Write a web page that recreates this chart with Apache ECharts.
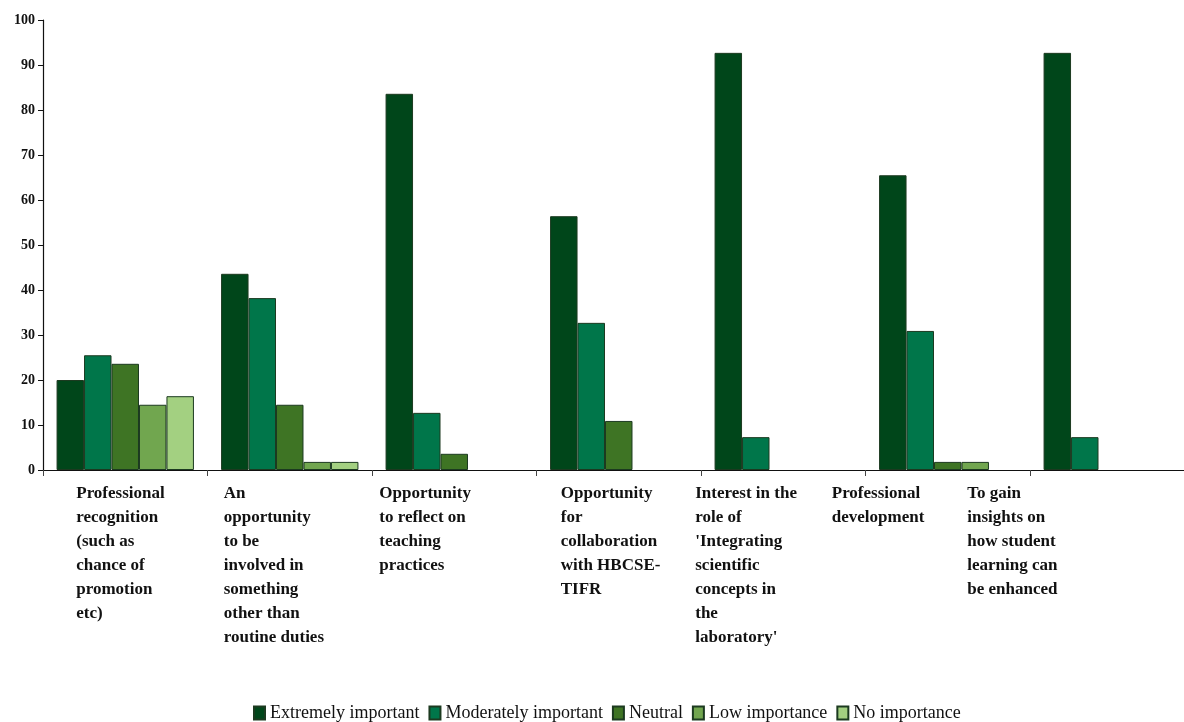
<!DOCTYPE html>
<html>
<head>
<meta charset="utf-8">
<style>
  html, body { margin: 0; padding: 0; background: #ffffff; }
  #chart { width: 1184px; height: 722px; }
</style>
<script src="https://cdn.jsdelivr.net/npm/echarts@6/dist/echarts.min.js"></script>
</head>
<body>
<div id="chart"></div>
<script>
// Reasons for taking part, with line breaks as they wrap under the axis
const categories = [
  "Professional\nrecognition\n(such as\nchance of\npromotion\netc)",
  "An\nopportunity\nto be\ninvolved in\nsomething\nother than\nroutine duties",
  "Opportunity\nto reflect on\nteaching\npractices",
  "Opportunity\nfor\ncollaboration\nwith HBCSE-\nTIFR",
  "Interest in the\nrole of\n'Integrating\nscientific\nconcepts in\nthe\nlaboratory'",
  "Professional\ndevelopment",
  "To gain\ninsights on\nhow student\nlearning can\nbe enhanced"
];

const seriesNames = [
  "Extremely important",
  "Moderately important",
  "Neutral",
  "Low importance",
  "No importance"
];

// Percent of respondents per rating (null = no responses)
const extremelyImportant  = [20.0, 43.6, 83.6, 56.4, 92.7, 65.5, 92.7];
const moderatelyImportant = [25.5, 38.2, 12.7, 32.7, 7.3, 30.9, 7.3];
const neutral             = [23.6, 14.5, 3.6, 10.9, null, 1.8, null];
const lowImportance       = [14.5, 1.8, null, null, null, 1.8, null];
const noImportance        = [16.4, 1.8, null, null, null, null, null];

const yTicks = { min: 0, max: 100, interval: 10 };

// Styling
const colors = ["#00461a", "#00764a", "#3e7424", "#71a64f", "#a3d081"];
const labelShift = [-49, -66, -75, -58, -88, -116, -145];

const seriesValues = [extremelyImportant, moderatelyImportant, neutral, lowImportance, noImportance];

const chart = echarts.init(document.getElementById("chart"), null, { renderer: "canvas" });

chart.setOption({
  backgroundColor: "#ffffff",
  animation: false,
  grid: { left: 43, top: 20, width: 1151.5, height: 450, containLabel: false, outerBoundsMode: "none" },
  legend: {
    data: seriesNames,
    top: 699,
    left: 248,
    itemWidth: 11,
    itemHeight: 13,
    itemGap: 9,
    icon: "rect",
    textStyle: { fontFamily: "Liberation Serif", fontSize: 18, color: "#111111" }
  },
  xAxis: {
    type: "category",
    data: categories.map((c, i) => ({
      value: c,
      textStyle: { align: "left", padding: [0, 0, 0, labelShift[i]] }
    })),
    axisLine: { lineStyle: { color: "#111111", width: 1.2 } },
    axisTick: { show: true, length: 6, interval: 0, lineStyle: { color: "#444444" } },
    axisLabel: {
      interval: 0,
      align: "left",
      margin: 12,
      fontFamily: "Liberation Serif",
      fontWeight: "bold",
      fontSize: 17,
      lineHeight: 24,
      color: "#111111"
    },
    splitLine: { show: false }
  },
  yAxis: {
    type: "value",
    min: yTicks.min,
    max: yTicks.max,
    interval: yTicks.interval,
    axisLine: { show: true, lineStyle: { color: "#111111", width: 1.2 } },
    axisTick: { show: true, length: 5, lineStyle: { color: "#111111" } },
    axisLabel: {
      margin: 8,
      fontFamily: "Liberation Serif",
      fontWeight: "bold",
      fontSize: 14,
      color: "#111111"
    },
    splitLine: { show: false }
  },
  series: seriesNames.map((name, i) => ({
    name: name,
    type: "bar",
    data: seriesValues[i],
    barGap: "0%",
    barCategoryGap: "16.5%",
    itemStyle: { color: colors[i], borderColor: "#1c3a20", borderWidth: 1 }
  }))
});
</script>
</body>
</html>
